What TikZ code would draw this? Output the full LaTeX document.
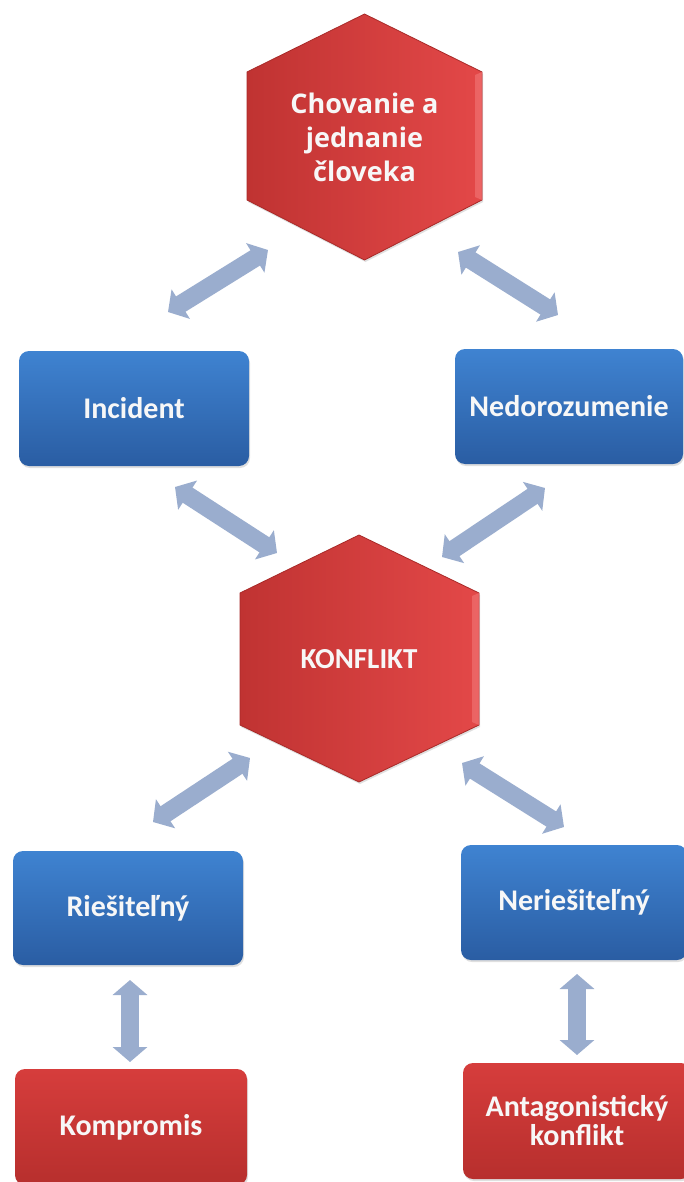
\documentclass[tikz,border=0pt]{standalone}
\usepackage{fontspec}
\setmainfont{Carlito}
\newfontfamily\opensans{Open Sans}
\usetikzlibrary{arrows.meta,shadows}
\definecolor{blueT}{HTML}{3F83D1}
\definecolor{blueB}{HTML}{2A5DA3}
\definecolor{redT}{HTML}{D63D3C}
\definecolor{redB}{HTML}{B72F2D}
\definecolor{hexL}{HTML}{C03332}
\definecolor{hexR}{HTML}{E34848}
\definecolor{hexEdge}{HTML}{A82A28}
\definecolor{hexBevel}{HTML}{F07070}
\definecolor{arrowc}{HTML}{9AADCE}
\definecolor{txt}{HTML}{F7F7F7}
\begin{document}
\begin{tikzpicture}[x=1pt,y=-1pt,
  boxbase/.style={rounded corners=10pt, align=center, inner sep=0pt,
    text=txt, font=\bfseries\fontsize{30}{29}\selectfont,
    drop shadow={opacity=0.25,shadow xshift=1pt,shadow yshift=-2pt}},
  bluebox/.style={boxbase, top color=blueT, bottom color=blueB},
  redbox/.style={boxbase, top color=redT, bottom color=redB},
  hexfill/.style={left color=hexL, right color=hexR, draw=hexEdge, line width=0.8pt,
    drop shadow={opacity=0.25,shadow xshift=1pt,shadow yshift=-2pt}},
  hextext/.style={text=txt, align=center, inner sep=0pt},
  biarrow/.style={draw=arrowc, line width=18pt,
    {Triangle[width=34pt,length=15pt]}-{Triangle[width=34pt,length=15pt]}}
]
\useasboundingbox (0,0) rectangle (684,1182);
\fill[white] (0,0) rectangle (684,1182);

% top hexagon
\path[hexfill] (364.5,14) -- (482,72) -- (482,200) -- (364.5,260) -- (247,200) -- (247,72) -- cycle;
\fill[hexBevel, opacity=0.7] (482,72) -- (482,200) -- (475,197) -- (475,75) -- cycle;
\node[hextext, font=\opensans\bfseries\fontsize{27}{34}\selectfont] (top) at (364.5,137) {Chovanie a\\jednanie\\človeka};

% KONFLIKT hexagon
\path[hexfill] (359,535) -- (479,593) -- (479,725) -- (359,782) -- (240,725) -- (240,593) -- cycle;
\fill[hexBevel, opacity=0.7] (479,593) -- (479,725) -- (472,722) -- (472,596) -- cycle;
\node[hextext, font=\bfseries\fontsize{29}{29}\selectfont] (konf) at (359,659) {KONFLIKT};

% boxes
\node[bluebox, minimum width=230pt, minimum height=115pt] (inc) at (134,408.5) {Incident};
\node[bluebox, minimum width=228pt, minimum height=115pt] (ned) at (569,406.5) {Nedorozumenie};
\node[bluebox, minimum width=230pt, minimum height=114pt] (ries) at (128,908) {Riešiteľný};
\node[bluebox, minimum width=226pt, minimum height=115pt] (neries) at (574,902.5) {Neriešiteľný};
\node[redbox, minimum width=232pt, minimum height=116pt] (komp) at (131,1127) {Kompromis};
\node[redbox, minimum width=228pt, minimum height=116pt] (anta) at (577,1121) {Antagonistický\\konflikt};

% arrow end points
\coordinate (a1s) at (268,250); \coordinate (a1e) at (168,312);
\coordinate (a2s) at (458,252); \coordinate (a2e) at (558,315);
\coordinate (a3s) at (175,487); \coordinate (a3e) at (277,553);
\coordinate (a4s) at (545,488); \coordinate (a4e) at (442,557);
\coordinate (a5s) at (250,758); \coordinate (a5e) at (153,822);
\coordinate (a6s) at (462,763); \coordinate (a6e) at (564,827);
\coordinate (a7s) at (130,980); \coordinate (a7e) at (130,1062);
\coordinate (a8s) at (577,974); \coordinate (a8e) at (577,1055);

\draw[biarrow] (a1s) -- (a1e);
\draw[biarrow] (a2s) -- (a2e);
\draw[biarrow] (a3s) -- (a3e);
\draw[biarrow] (a4s) -- (a4e);
\draw[biarrow] (a5s) -- (a5e);
\draw[biarrow] (a6s) -- (a6e);
\draw[biarrow] (a7s) -- (a7e);
\draw[biarrow] (a8s) -- (a8e);
\end{tikzpicture}
\end{document}
